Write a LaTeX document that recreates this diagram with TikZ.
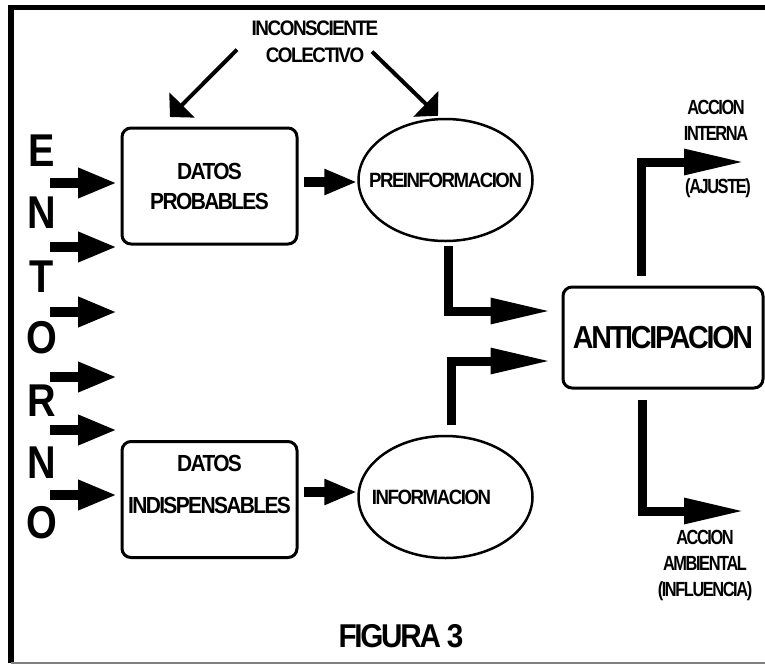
\documentclass[tikz,border=0pt]{standalone}
\usepackage{fontspec}
\setmainfont{Liberation Sans}[FakeStretch=0.9,LetterSpace=-7]
\newfontfamily\tagfont{Liberation Sans}[FakeStretch=0.8,LetterSpace=-7]
\newfontfamily\entfont{Liberation Sans}[FakeStretch=0.86]
\usetikzlibrary{arrows.meta,shapes.geometric}

\begin{document}
\begin{tikzpicture}[x=1pt,y=1pt]

\tikzset{box/.style = {draw,line width=3pt,rounded corners=9pt,minimum width=175pt,minimum height=116pt,align=center,font=\bfseries\fontsize{23.3}{30}\selectfont}}
\tikzset{oval/.style = {ellipse,draw,line width=2.5pt,minimum width=174pt,minimum height=122pt,inner sep=0pt,font=\bfseries\fontsize{20.7}{25}\selectfont}}
\tikzset{letter/.style = {inner sep=0pt,font=\entfont\bfseries\fontsize{46}{46}\selectfont}}
\tikzset{tag/.style = {align=center,inner sep=0pt,font=\tagfont\bfseries\fontsize{20.5}{26}\selectfont}}
\tikzset{edge/.style = {line width=9.5pt,-{Triangle[length=33pt,width=24pt]}}}
\tikzset{input/.style = {line width=9.5pt,-{Triangle[length=39pt,width=28pt]}}}
\tikzset{elbow/.style = {line width=9pt,-{Triangle[length=61pt,width=24pt]}}}
\tikzset{drop/.style = {line width=4pt,-{Triangle[length=17pt,width=35pt]}}}

\useasboundingbox (0,0) rectangle (765,-665);
% frame
\draw[line width=5.5pt] (765,-7.5) -- (11,-7.5) -- (11,-663);
\draw[gray,line width=1.5pt] (11,-663) -- (765,-663);

% entorno
\node[letter] (e1) at (42,-151) {E};
\node[letter] (e2) at (42,-213) {N};
\node[letter] (e3) at (42,-277) {T};
\node[letter] (e4) at (42,-338) {O};
\node[letter] (e5) at (42,-401) {R};
\node[letter] (e6) at (42,-463) {N};
\node[letter] (e7) at (42,-523) {O};

\coordinate (a1) at (50,-183);
\coordinate (a2) at (50,-247);
\coordinate (a3) at (50,-312);
\coordinate (a4) at (50,-377);
\coordinate (a5) at (50,-430);
\coordinate (a6) at (50,-495);
\coordinate (b1) at (117,-183);
\coordinate (b2) at (117,-247);
\coordinate (b3) at (117,-312);
\coordinate (b4) at (117,-377);
\coordinate (b5) at (117,-430);
\coordinate (b6) at (117,-495);

% nodes
\node[align=center,inner sep=0pt,font=\bfseries\fontsize{21}{27}\selectfont] (inc) at (315,-41.5) {INCONSCIENTE\\COLECTIVO};
\node[box] (dp) at (209.5,-186) {DATOS\\PROBABLES};
\node[box,text depth=30pt] (di) at (209.5,-499.5) {DATOS\\[12pt]INDISPENSABLES};
\node[oval] (pre) at (445.5,-180) {\makebox[0pt]{PREINFORMACION}};
\node[oval] (inf) at (445.5,-497) {\makebox[0pt]{INFORMACION\hspace*{28pt}}};
\node[box,minimum width=200pt,minimum height=101pt,font=\bfseries\fontsize{31.8}{32}\selectfont] (ant) at (663,-337.5) {ANTICIPACION};
\node[tag] (int) at (716,-120.5) {ACCION\\INTERNA};
\node[tag] (aju) at (718,-188) {(AJUSTE)};
\node[tag] (amb) at (705,-565) {ACCION\\AMBIENTAL\\(INFLUENCIA)};
\node[inner sep=0pt,font=\bfseries\fontsize{33}{33}\selectfont] (fig) at (401,-636) {FIGURA 3};

\coordinate (ajo) at (745,-162);
\coordinate (amo) at (745,-511);

%edges
\draw[input] (a1) -- (b1);
\draw[input] (a2) -- (b2);
\draw[input] (a3) -- (b3);
\draw[input] (a4) -- (b4);
\draw[input] (a5) -- (b5);
\draw[input] (a6) -- (b6);

\draw[drop] ([shift={(-78pt,13pt)}]inc.south) -- ([shift={(-39.5pt,9.5pt)}]dp.north);
\draw[drop] ([shift={(57pt,11pt)}]inc.south) -- ([shift={(-7.5pt,2pt)}]pre.north);

\draw[edge,shorten <=5pt] ([yshift=4pt]dp.east) -- ([yshift=-2pt]pre.west);
\draw[edge,shorten <=5pt] ([yshift=7.5pt]di.east) -- ([yshift=5pt]inf.west);

\draw[elbow,shorten <=4pt] ([xshift=2.5pt]pre.south) |- ([xshift=-10pt,yshift=26.5pt]ant.west);
\draw[elbow,shorten <=10pt] ([xshift=5.5pt]inf.north) |- ([xshift=-10pt,yshift=-23.5pt]ant.west);
\draw[elbow,shorten <=10pt] ([xshift=-21.5pt]ant.north) |- (ajo);
\draw[elbow,shorten <=10pt] ([xshift=-21pt]ant.south) |- (amo);

\end{tikzpicture}
\end{document}
